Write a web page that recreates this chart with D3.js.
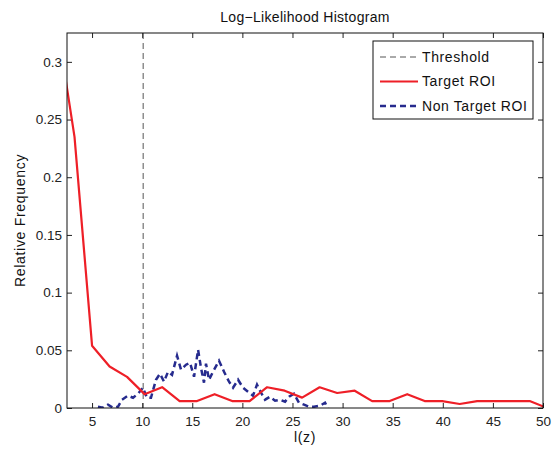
<!DOCTYPE html>
<html>
<head>
<meta charset="utf-8">
<script src="https://cdn.jsdelivr.net/npm/d3@7"></script>
<style>
  body { margin: 0; background: #fff; }
  svg { display: block; font-family: "Liberation Sans", Arial, Helvetica, sans-serif; }
</style>
</head>
<body>
<div id="chart"></div>
<script>
// Target ROI histogram (bin centres / relative frequency)
const targetX = [1.51, 3.25, 5.00, 6.75, 8.49, 10.24, 11.99, 13.74, 15.48, 17.23, 18.98, 20.72, 22.47, 24.22, 25.96,
  27.71, 29.46, 31.21, 32.95, 34.70, 36.45, 38.19, 39.94, 41.69, 43.43, 45.18, 46.93, 48.67, 50.42];
const targetY = [0.333, 0.235, 0.054, 0.036, 0.027, 0.012, 0.018, 0.006, 0.006, 0.012, 0.006, 0.006, 0.018, 0.015, 0.009,
  0.018, 0.013, 0.015, 0.006, 0.006, 0.012, 0.006, 0.006, 0.0035, 0.006, 0.006, 0.006, 0.006, 0.0];

// Non target ROI histogram (finer bins)
const nonTargetX = [5.59, 6.09, 6.59, 7.09, 7.59, 7.99, 8.59, 9.09, 9.59, 10.08, 10.48, 10.88, 11.38, 11.78, 12.18,
  12.58, 12.98, 13.48, 13.88, 14.38, 14.78, 15.18, 15.58, 15.87, 16.17, 16.37, 16.67, 17.07, 17.67, 18.17,
  18.67, 19.07, 19.57, 20.06, 20.56, 21.06, 21.46, 21.86, 22.26, 22.76, 23.26, 23.76, 24.26, 24.66, 25.15,
  25.65, 26.15, 26.65, 27.15, 27.75, 28.25, 28.55];
const nonTargetY = [0.0011, 0.0003, 0.0029, 0.0003, 0.0011, 0.0072, 0.0107, 0.0089, 0.0124, 0.0176, 0.0089, 0.0089, 0.0245, 0.0297, 0.0228,
  0.0314, 0.0288, 0.0453, 0.0332, 0.0375, 0.0392, 0.0271, 0.0505, 0.0349, 0.0219, 0.0384, 0.0245, 0.0314, 0.0410, 0.0314,
  0.0228, 0.0176, 0.0245, 0.0176, 0.0141, 0.0107, 0.0202, 0.0133, 0.0072, 0.0098, 0.0063, 0.0072, 0.0055, 0.0098, 0.0124,
  0.0046, 0.0029, 0.0011, 0.0011, 0.0020, 0.0046, 0.0];

const threshold = 10.1;

const xTicks = [5, 10, 15, 20, 25, 30, 35, 40, 45, 50];
const yTicks = [0, 0.05, 0.1, 0.15, 0.2, 0.25, 0.3];

const legendItems = ["Threshold", "Target ROI", "Non Target ROI"];

const W = 558, H = 451;
const margin = { top: 33, right: 15, bottom: 43, left: 67 };
const iw = W - margin.left - margin.right;
const ih = H - margin.top - margin.bottom;

const svg = d3.select("#chart").append("svg")
    .attr("width", W)
    .attr("height", H);

const g = svg.append("g").attr("transform", `translate(${margin.left},${margin.top})`);

const x = d3.scaleLinear().domain([2.5, 50]).range([0, iw]);
const y = d3.scaleLinear().domain([0, 0.325]).range([ih, 0]);

g.append("clipPath").attr("id", "clip")
  .append("rect").attr("width", iw).attr("height", ih);

// axes with inward ticks (matlab style)
const fmt = d => d3.format("~g")(d);
const styleAxis = sel => {
    sel.select(".domain").remove();
    sel.selectAll("text").attr("font-size", 13.5).attr("fill", "#222")
       .attr("font-family", "'Liberation Sans', Arial, Helvetica, sans-serif");
    sel.selectAll("line").attr("stroke", "#222");
};

g.append("g").attr("transform", `translate(0,${ih})`)
  .call(d3.axisBottom(x).tickValues(xTicks).tickSizeInner(-5).tickSizeOuter(0).tickPadding(8).tickFormat(fmt))
  .call(styleAxis);
g.append("g")
  .call(d3.axisTop(x).tickValues(xTicks).tickSizeInner(-5).tickSizeOuter(0).tickFormat(""))
  .call(styleAxis);
g.append("g")
  .call(d3.axisLeft(y).tickValues(yTicks).tickSizeInner(-5).tickSizeOuter(0).tickPadding(5).tickFormat(fmt))
  .call(styleAxis);
g.append("g").attr("transform", `translate(${iw},0)`)
  .call(d3.axisRight(y).tickValues(yTicks).tickSizeInner(-5).tickSizeOuter(0).tickFormat(""))
  .call(styleAxis);

const plot = g.append("g").attr("clip-path", "url(#clip)");

// threshold
plot.append("line")
    .attr("x1", x(threshold)).attr("x2", x(threshold))
    .attr("y1", 0).attr("y2", ih)
    .attr("stroke", "#555").attr("stroke-width", 1)
    .attr("stroke-dasharray", "6,4");

const line = d3.line().x(d => x(d[0])).y(d => y(d[1]));

plot.append("path")
    .datum(nonTargetX.map((v, i) => [v, nonTargetY[i]]))
    .attr("d", line)
    .attr("fill", "none")
    .attr("stroke", "#262b8e")
    .attr("stroke-width", 2.5)
    .attr("stroke-dasharray", "6,4");

plot.append("path")
    .datum(targetX.map((v, i) => [v, targetY[i]]))
    .attr("d", line)
    .attr("fill", "none")
    .attr("stroke", "#ee1f27")
    .attr("stroke-width", 2.2)
    .attr("stroke-linejoin", "round");

// frame
g.append("rect").attr("width", iw).attr("height", ih)
  .attr("fill", "none").attr("stroke", "#111").attr("stroke-width", 1);

// titles
svg.append("text")
  .attr("x", margin.left + iw / 2).attr("y", 22)
  .attr("text-anchor", "middle").attr("font-size", 14).attr("fill", "#111")
  .attr("letter-spacing", 0.3)
  .text("Log\u2212Likelihood Histogram");

svg.append("text")
  .attr("x", margin.left + iw / 2).attr("y", 442)
  .attr("text-anchor", "middle").attr("font-size", 14).attr("fill", "#111")
  .attr("letter-spacing", 0.6)
  .text("l(z)");

svg.append("text")
  .attr("transform", `translate(25,${margin.top + ih / 2}) rotate(-90)`)
  .attr("text-anchor", "middle").attr("font-size", 14).attr("fill", "#111")
  .attr("letter-spacing", 0.7)
  .text("Relative Frequency");

// legend
const lg = svg.append("g").attr("transform", "translate(373,41)");
lg.append("rect").attr("width", 160).attr("height", 78)
  .attr("fill", "#fff").attr("stroke", "#111").attr("stroke-width", 1);

const legendStyle = [
  { stroke: "#555", width: 1, dash: "6,4" },
  { stroke: "#ee1f27", width: 2.2, dash: null },
  { stroke: "#262b8e", width: 2.5, dash: "6,4" }
];

legendItems.forEach((name, i) => {
    const yy = 16 + i * 24.5;
    const s = legendStyle[i];
    lg.append("line")
      .attr("x1", 7).attr("x2", 45).attr("y1", yy).attr("y2", yy)
      .attr("stroke", s.stroke).attr("stroke-width", s.width)
      .attr("stroke-dasharray", s.dash);
    lg.append("text")
      .attr("x", 49).attr("y", yy).attr("dy", "0.35em")
      .attr("font-size", 14).attr("fill", "#111")
      .attr("letter-spacing", 0.6)
      .text(name);
});
</script>
</body>
</html>
